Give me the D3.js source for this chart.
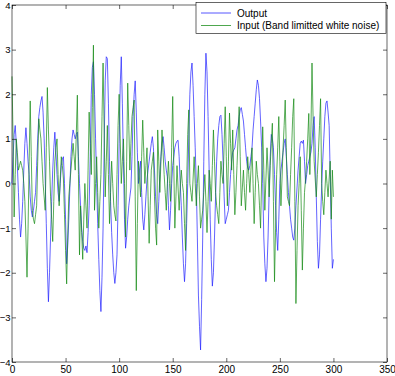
<!DOCTYPE html>
<html>
<head>
<meta charset="utf-8">
<script src="https://cdn.jsdelivr.net/npm/d3@7"></script>
<style>
  body { margin: 0; background: #fff; }
  svg { display: block; font-family: "Liberation Sans", Arial, sans-serif; }
  .axis text { font-size: 10px; fill: #000; }
  .axis.yleft text { font-size: 9.5px; }
  .axis path { display: none; }
  .axis line { stroke: #000; stroke-width: 0.6; }
</style>
</head>
<body>
<svg id="chart" width="395" height="376"></svg>
<script>
// values, one per sample (t = 0..300)
const output = [
  0.0, 0.6, 1.1, 1.3, 0.9, 0.4, -0.2, -0.8, -1.2, -0.9,
  -0.4, 0.3, 0.9, 1.25, 0.9, 0.5, 0.2, -0.3, -0.6, -0.75,
  -0.6, -0.4, -0.2, 0.4, 1.0, 1.5, 1.7, 1.85, 1.95, 1.6,
  1.0, 0.1, -0.9, -1.9, -2.65, -2.0, -1.2, -0.4, 0.3, 0.8,
  1.15, 0.7, 0.2, -0.2, -0.4, 0.0, 0.4, 0.55, 0.6, 0.0,
  -0.8, -1.8, -1.4, -0.8, -0.1, 0.6, 1.0, 1.2, 1.1, 1.0,
  1.1, 1.15, 0.6, 0.0, -0.5, -1.0, -1.3, -1.45, -1.5, -1.4,
  -1.55, -1.1, -0.5, 0.6, 2.0, 2.6, 2.73, 2.0, 1.0, 0.0,
  -0.9, -1.7, -2.4, -2.87, -2.1, -1.0, 0.8, 2.3, 2.84, 2.8,
  1.8, 0.5, -0.4, -1.1, -1.6, -2.0, -2.24, -2.0, -1.6, -0.5,
  0.9, 2.2, 2.84, 1.8, 0.5, -0.8, -1.45, -1.2, -0.8, -0.5,
  -0.3, -0.1, 0.6, 1.5, 2.0, 2.3, 1.6, 0.7, 0.0, 0.3,
  0.5, -0.2, -0.8, -1.04, -0.7, -0.3, 0.1, 0.3, 0.5, 0.7,
  0.9, 1.05, 0.8, 0.3, -0.3, -0.7, -0.9, -0.4, 0.2, 0.6,
  0.9, 1.05, 0.8, 0.5, 0.3, 0.15, -0.5, -1.04, -0.6, 0.0,
  0.4, 0.6, 0.8, 0.9, 0.95, 0.97, 0.6, 0.0, -0.5, -1.2,
  -1.8, -2.2, -1.8, -0.9, 0.0, 1.0, 2.0, 2.5, 2.7, 2.2,
  1.5, 0.8, 0.0, -1.2, -2.5, -3.2, -3.73, -2.6, -1.2, 0.5,
  2.0, 2.92, 2.5, 1.5, 0.3, -0.8, -1.7, -2.3, -2.0, -1.2,
  -0.3, 0.5, 1.0, 1.3, 1.5, 1.53, 1.1, 0.5, -0.3, -0.9,
  -0.8, -0.7, -0.6, -0.2, 0.2, 0.5, 0.7, 0.75, 0.8, 1.0,
  1.2, 1.3, 1.5, 1.65, 1.7, 1.55, 1.4, 1.1, 0.8, 0.5,
  0.35, 0.3, 0.4, 0.6, 0.8, 1.2, 1.5, 1.8, 2.1, 2.32,
  2.2, 1.9, 1.4, 0.8, 0.0, -1.2, -1.8, -2.2, -1.9, -1.2,
  -0.2, 0.6, 1.1, 1.0, 0.8, 0.2, -0.5, -1.1, -1.5, -0.8,
  0.0, 0.3, 0.5, 0.7, 0.9, 1.0, 0.6, 0.2, -0.2, -0.5,
  -0.8, -1.0, -1.2, -1.27, -1.0, -0.5, -0.1, 0.3, 0.6, 0.9,
  0.95, 0.9, 0.97, 0.5, 0.0, 0.2, 0.4, 0.5, 0.6, 0.7,
  0.9, 1.3, 1.5, 0.8, -0.3, -1.3, -1.9, -1.6, -0.8, -0.1,
  0.5, 1.0, 1.5, 1.8, 1.85, 1.6, 1.3, 0.2, -1.0, -1.9,
  -1.7
];
const input = [
  2.4, 1.0, -0.75, 0.2, 1.0, 0.7, 0.3, 0.4, 0.5, 0.4,
  0.3, 0.0, -0.4, -1.2, -2.1, -1.0, 0.5, 1.85, 0.6, -0.6,
  -0.8, -0.9, -0.7, -0.5, 0.5, 1.45, 1.2, 1.0, 0.5, 0.0,
  -0.3, -0.6, 0.8, 2.15, 1.2, 0.5, -0.3, -0.8, -1.3, -0.4,
  0.5, 0.8, 1.0, 0.2, -0.5, 0.1, 0.6, 0.4, 0.1, -0.7,
  -1.5, -2.25, -1.2, -0.3, 0.0, 0.3, 0.6, 0.9, 0.6, 0.3,
  1.1, 1.98, 0.2, -1.6, -0.5, -1.1, -1.7, -0.8, 0.0, -0.5,
  -1.0, 0.3, 1.6, 0.9, 0.2, 1.7, 3.1, -0.6, 0.0, 0.6,
  -0.2, -1.0, -0.4, 0.2, 1.5, 2.7, 1.2, -0.3, 0.5, 1.3,
  0.2, -0.9, -0.2, 0.5, 0.0, -0.5, -0.7, -0.84, 0.2, 1.3,
  2.0, 1.0, 0.0, 0.5, 1.0, 0.0, -1.2, 0.5, 2.25, 1.3,
  0.3, 0.9, 1.5, 1.7, 1.87, -0.3, -2.4, -0.9, 0.5, 0.1,
  -0.3, 0.6, 1.42, 0.7, 0.0, 0.4, 0.8, -0.3, -1.34, -0.5,
  0.3, 0.5, 0.7, -0.3, -1.0, -1.38, 1.2, 0.5, -0.2, 0.5,
  1.2, 0.7, 0.2, -0.2, -0.6, 0.0, 0.5, 0.0, -0.4, 0.8,
  1.95, 0.4, -1.0, -0.3, 0.4, -0.1, -0.6, -0.1, 0.3, 0.0,
  -0.2, -0.9, -1.5, 0.0, 1.1, 1.65, 0.0, -0.2, -0.4, 0.1,
  0.6, 0.0, -0.5, 0.0, 0.4, -0.3, -1.0, -0.8, -0.6, -0.2,
  0.2, -0.4, -1.1, -0.4, 0.3, 0.0, -0.4, 0.4, 1.2, 0.5,
  -0.2, -0.5, -0.7, -0.9, -0.2, 0.5, 0.2, 0.0, 0.9, 1.72,
  0.6, -0.5, 0.5, 1.58, 0.9, 0.3, 1.2, 0.2, -0.7, -0.2,
  0.4, 1.0, 1.72, 0.6, -0.5, -0.1, 0.3, -0.2, -0.6, 0.0,
  0.6, 0.2, -0.2, 0.3, 0.8, 0.0, -0.9, -0.2, 0.5, 0.2,
  0.0, -0.5, -1.0, 0.1, 1.27, 0.3, -0.6, 0.1, 0.8, 0.3,
  -0.3, 0.4, 0.9, 1.35, -0.4, -2.2, -1.0, 0.2, 0.8, 1.5,
  0.5, -0.5, 0.1, 0.8, 1.3, 1.87, 0.8, -0.3, -0.4, -0.5,
  0.2, 0.8, 1.5, 1.9, -0.4, -2.69, -1.5, -0.5, 0.0, 0.6,
  -0.6, -1.94, -1.0, -0.2, 0.1, 0.5, 1.0, 1.57, 0.2, 1.2,
  2.7, 1.5, 0.5, 0.1, -0.3, 0.2, 0.7, 1.3, 1.9, 0.0,
  -0.4, -0.7, -0.2, 0.3, 0.0, -0.3, 0.1, 0.5, -0.8, 0.3,
  -0.3
];
const xTicks = [0, 50, 100, 150, 200, 250, 300, 350];
const yTicks = [-4, -3, -2, -1, 0, 1, 2, 3, 4];
const legendLabels = ["Output", "Input (Band limitted white noise)"];
const colors = ["#1f1fff", "#138a13"];

const svg = d3.select("#chart");
const plotLeft = 12, plotRight = 387, plotTop = 5, plotBottom = 362;

const x = d3.scaleLinear().domain([0, 350]).range([plotLeft, plotRight]);
const y = d3.scaleLinear().domain([-4, 4]).range([plotBottom, plotTop]);

svg.append("rect")
  .attr("width", 395).attr("height", 376)
  .attr("fill", "#fff");

// data lines, output first so the input sits on top
const line = d3.line()
  .x((d, i) => x(i))
  .y(d => y(d));

[output, input].forEach((series, k) => {
  svg.append("path")
    .datum(series)
    .attr("fill", "none")
    .attr("stroke", colors[k])
    .attr("stroke-width", 0.7)
    .attr("d", line);
});

// axes, ticks pointing inward like matlab
svg.append("g").attr("class", "axis")
  .attr("transform", `translate(0,${plotBottom})`)
  .call(d3.axisBottom(x).tickValues(xTicks).tickSizeInner(-4).tickSizeOuter(0).tickPadding(4));
svg.append("g").attr("class", "axis yleft")
  .attr("transform", `translate(${plotLeft},0)`)
  .call(d3.axisLeft(y).tickValues(yTicks).tickSizeInner(-4).tickSizeOuter(0).tickPadding(1.5));
svg.append("g").attr("class", "axis")
  .attr("transform", `translate(0,${plotTop})`)
  .call(d3.axisTop(x).tickValues(xTicks).tickSizeInner(-4).tickSizeOuter(0).tickFormat(""));
svg.append("g").attr("class", "axis")
  .attr("transform", `translate(${plotRight},0)`)
  .call(d3.axisRight(y).tickValues(yTicks).tickSizeInner(-4).tickSizeOuter(0).tickFormat(""));

svg.append("rect")
  .attr("x", plotLeft).attr("y", plotTop)
  .attr("width", plotRight - plotLeft).attr("height", plotBottom - plotTop)
  .attr("fill", "none")
  .attr("stroke", "#000")
  .attr("stroke-width", 0.6);

// legend
const legend = svg.append("g");
legend.append("rect")
  .attr("x", 196).attr("y", 2.5)
  .attr("width", 190).attr("height", 31)
  .attr("fill", "#fff")
  .attr("stroke", "#000")
  .attr("stroke-width", 0.6);

legendLabels.forEach((label, i) => {
  const ly = 13 + i * 12.5;
  legend.append("line")
    .attr("x1", 201).attr("x2", 231)
    .attr("y1", ly).attr("y2", ly)
    .attr("stroke", colors[i])
    .attr("stroke-width", 0.75);
  legend.append("text")
    .attr("x", 237).attr("y", ly)
    .attr("dy", "0.35em")
    .style("font-size", "10px")
    .text(label);
});
</script>
</body>
</html>
